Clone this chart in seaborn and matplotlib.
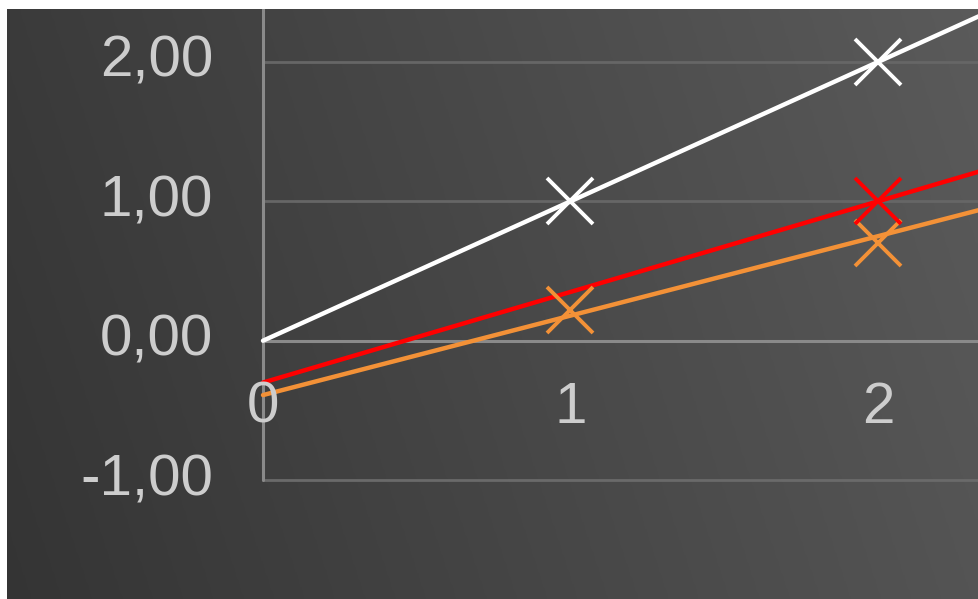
import numpy as np
import pandas as pd
import seaborn as sns
import matplotlib.pyplot as plt

# データ
trend_x = [0, 1, 2, 3]
white_line = [0.00, 1.00, 2.00, 3.00]
red_line = [-0.30, 0.35, 1.00, 1.65]
orange_line = [-0.39, 0.18, 0.75, 1.32]

white_pts_x = [1, 2]
white_pts_y = [1.00, 2.00]
red_pts_x = [2]
red_pts_y = [1.00]
orange_pts_x = [1, 2]
orange_pts_y = [0.22, 0.70]

y_ticks = [-1, 0, 1, 2]
y_labels = ["-1,00", "0,00", "1,00", "2,00"]
x_ticks = [0, 1, 2]
x_labels = ["0", "1", "2"]

colors = {"white": "#ffffff", "red": "#ff0000", "orange": "#f39137"}

sns.set_theme(style="white")
plt.rcParams['font.family'] = ['Liberation Sans', 'DejaVu Sans']

W, H = 979, 599
fig = plt.figure(figsize=(W / 100, H / 100), dpi=100)
fig.patch.set_facecolor("white")

# 背景グラデーション
left, top = 7 / W, 9 / H
bg = fig.add_axes([left, 0, 1 - left, 1 - top])
gx, gy = np.meshgrid(np.linspace(0, 1, 200), np.linspace(0, 1, 200))
grad = 0.205 + 0.125 * gx + 0.025 * gy
bg.imshow(np.dstack([grad, grad, grad]), origin="lower", aspect="auto",
          extent=[0, 1, 0, 1])
bg.axis("off")

ax = fig.add_axes([left, 0, 1 - left, 1 - top])
ax.patch.set_alpha(0)
for s in ax.spines.values():
    s.set_visible(False)

x0 = -(263 - 7) / 307.5
x1 = (979 - 263) / 307.5
y1 = 2 + (62 - 9) / 139.5
y0 = -1 - (599 - 480) / 139.5
ax.set_xlim(x0, x1)
ax.set_ylim(y0, y1)

# 軸線とグリッド
frac0 = (0 - x0) / (x1 - x0)
ax.axhline(2, xmin=frac0, color="#666666", lw=2, zorder=1)
ax.axhline(1, xmin=frac0, color="#666666", lw=2, zorder=1)
ax.axhline(-1, xmin=frac0, color="#6a6a6a", lw=2, zorder=1)
ax.axhline(0, xmin=frac0, color="#8a8a8a", lw=2.2, zorder=1)
ax.axvline(0, ymin=(-1 - y0) / (y1 - y0), color="#8a8a8a", lw=2.2, zorder=1)

# トレンドライン
lines = pd.DataFrame({"x": trend_x * 3,
                      "y": white_line + red_line + orange_line,
                      "s": ["white"] * 4 + ["red"] * 4 + ["orange"] * 4})
sns.lineplot(data=lines, x="x", y="y", hue="s", palette=colors,
             hue_order=["orange", "red", "white"], lw=3.2, legend=False,
             ax=ax, zorder=3)

# マーカー
pts = pd.DataFrame({"x": white_pts_x + red_pts_x + orange_pts_x,
                    "y": white_pts_y + red_pts_y + orange_pts_y,
                    "s": ["white"] * 2 + ["red"] + ["orange"] * 2})
for name, g in pts.groupby("s"):
    ax.plot(g["x"], g["y"], linestyle="none", marker="x", markersize=33,
            markeredgewidth=2.8, color=colors[name], zorder=4)

ax.set_xticks([])
ax.set_yticks([])
ax.set_xlabel("")
ax.set_ylabel("")

# 目盛ラベル
for v, lab in zip(y_ticks, y_labels):
    ax.text(x0 + (213 - 7) / 307.5, v, lab, ha="right", va="center",
            fontsize=42, color="#cdcdcd")
for v, lab in zip(x_ticks, x_labels):
    ax.text(v, -0.48, lab, ha="center", va="center", fontsize=42,
            color="#cdcdcd")

fig.savefig("out.png", dpi=100, facecolor=fig.get_facecolor())
